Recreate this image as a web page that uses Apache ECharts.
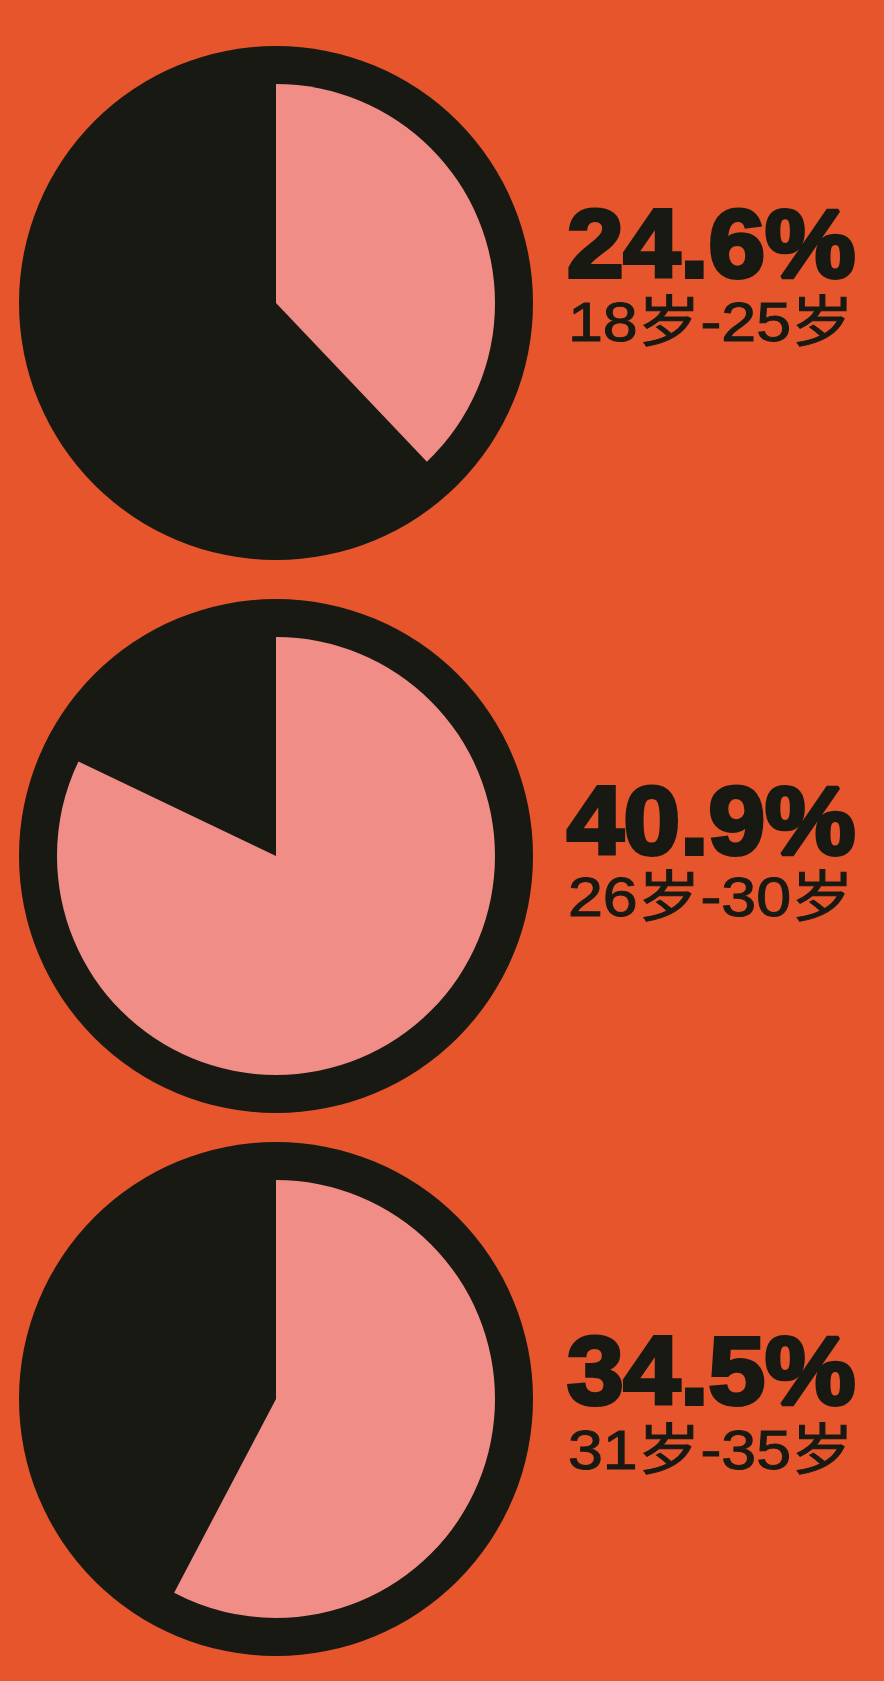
<!DOCTYPE html>
<html>
<head>
<meta charset="utf-8">
<script src="https://cdn.jsdelivr.net/npm/echarts@6/dist/echarts.min.js"></script>
<style>
html, body { margin: 0; padding: 0; background: #e6552c; }
#main { width: 884px; height: 1681px; }
</style>
</head>
<body>
<div id="main"></div>
<script>
// age groups and the share printed next to each disc
const ageGroups = ['18岁-25岁', '26岁-30岁', '31岁-35岁'];
const shareLabels = ['24.6%', '40.9%', '34.5%'];
// pink wedge as drawn in the picture (percent of a full turn)
const wedgeShares = [37.9, 82.1, 57.7];

// layout
const discX = 276;
const discY = [303, 856, 1399];
const pctY = [251, 828, 1378];
const subY = [326, 901, 1454];

const BLACK = '#171912';
const PINK = '#ef8d86';

const series = [];
const graphic = [];

discY.forEach((cy, i) => {
    // black disc
    series.push({
        type: 'pie',
        silent: true,
        animation: false,
        center: [discX, cy],
        radius: [0, 257],
        label: { show: false },
        labelLine: { show: false },
        itemStyle: { color: BLACK, borderWidth: 0 },
        data: [{ value: 1, name: ageGroups[i] + ' bg' }]
    });
    // pink wedge, clockwise from 12 o'clock
    series.push({
        type: 'pie',
        silent: true,
        animation: false,
        center: [discX, cy],
        radius: [0, 219],
        startAngle: 90,
        clockwise: true,
        label: { show: false },
        labelLine: { show: false },
        itemStyle: { borderWidth: 0 },
        data: [
            { value: wedgeShares[i], name: ageGroups[i], itemStyle: { color: PINK } },
            { value: 100 - wedgeShares[i], name: 'rest', itemStyle: { color: 'rgba(0,0,0,0)' } }
        ]
    });

    graphic.push({
        type: 'text',
        x: 567,
        y: pctY[i],
        scaleX: 1.06,
        style: {
            text: shareLabels[i],
            fill: BLACK,
            fontFamily: 'Liberation Sans',
            fontWeight: 'bold',
            fontSize: 96,
            verticalAlign: 'middle',
            stroke: BLACK,
            lineWidth: 4
        }
    });
    graphic.push({
        type: 'text',
        x: 568,
        y: subY[i],
        scaleX: 1.14,
        style: {
            text: ageGroups[i],
            fill: BLACK,
            fontFamily: 'Liberation Sans, Noto Sans CJK SC',
            fontSize: 55,
            verticalAlign: 'middle',
            stroke: BLACK,
            lineWidth: 1
        }
    });
});

const chart = echarts.init(document.getElementById('main'));
chart.setOption({
    backgroundColor: '#e6552c',
    animation: false,
    series: series,
    graphic: graphic
});
</script>
</body>
</html>
